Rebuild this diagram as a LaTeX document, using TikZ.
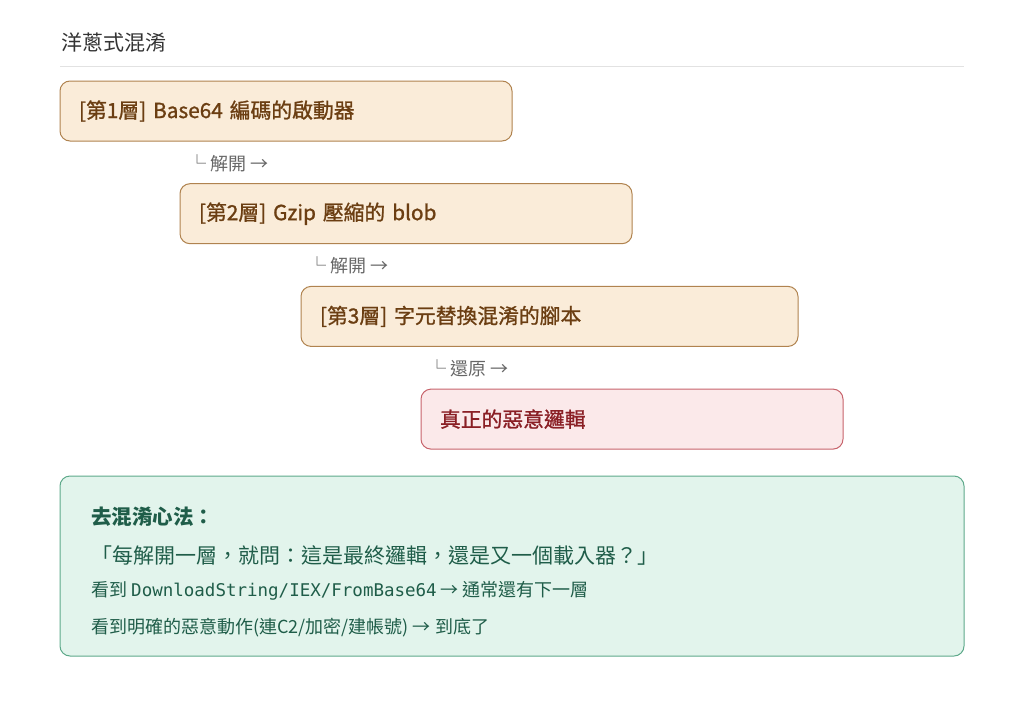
\documentclass[tikz,border=0pt]{standalone}
\usepackage{fontspec}
\setmainfont{Noto Sans CJK TC}
\setmonofont{DejaVu Sans Mono}
\newfontfamily\midweight{Noto Sans CJK TC}[FakeBold=1.1]
\usetikzlibrary{positioning}

\definecolor{headgray}{HTML}{333333}
\definecolor{rulegray}{HTML}{E2E2E2}
\definecolor{peelgray}{HTML}{666666}
\definecolor{layerfill}{HTML}{FAECD9}
\definecolor{layerline}{HTML}{B0834F}
\definecolor{layertext}{HTML}{6B3E12}
\definecolor{corefill}{HTML}{FBE9EA}
\definecolor{coreline}{HTML}{C7636B}
\definecolor{coretext}{HTML}{8A1F25}
\definecolor{tipfill}{HTML}{E2F4EC}
\definecolor{tipline}{HTML}{5DA98A}
\definecolor{tiptext}{HTML}{1F5D49}

\tikzset{%
  layer box/.style={draw=layerline,fill=layerfill,text=layertext,
    line width=1pt,rounded corners=10pt,anchor=north west,outer sep=0pt,
    minimum height=60pt,inner xsep=19pt,text width=#1,align=left,
    font=\fontsize{20.8}{24}\selectfont\midweight},
  core box/.style={layer box=#1,draw=coreline,fill=corefill,text=coretext},
  peel label/.style={anchor=west,inner sep=0pt,text=peelgray,
    font=\fontsize{18}{20}\selectfont},
  tip box/.style={draw=tipline,fill=tipfill,line width=1pt,outer sep=0pt,
    rounded corners=10pt,anchor=north west,minimum width=904pt,
    minimum height=180pt},
  tip line/.style={anchor=west,inner sep=0pt,text=tiptext,
    font=\fontsize{#1}{24}\selectfont}
}

\begin{document}
\begin{tikzpicture}[x=1pt,y=-1pt]

%% page frame

\useasboundingbox (0,0) rectangle (1024,717);

%% heading

\node[anchor=west,inner sep=0pt,text=headgray,
  font=\fontsize{21}{24}\selectfont] (title) at (61,43) {洋蔥式混淆};
\coordinate (ruleL) at (60,66);
\coordinate (ruleR) at (964,66);
\draw[rulegray,line width=1pt] (ruleL) -- (ruleR);

%% the layers, each one step further right

\node[layer box=414pt] (layer1) at (60,81) {[第1層] Base64 編碼的啟動器};
\node[peel label] (peel1) at ([xshift=128pt,yshift=-22pt]layer1.south west)
  {└ 解開 →};

\node[layer box=414pt] (layer2) at ([xshift=120pt,yshift=-42.7pt]layer1.south west)
  {[第2層] Gzip 壓縮的 blob};
\node[peel label] (peel2) at ([xshift=128pt,yshift=-22pt]layer2.south west)
  {└ 解開 →};

\node[layer box=459pt] (layer3) at ([xshift=121pt,yshift=-42.7pt]layer2.south west)
  {[第3層] 字元替換混淆的腳本};
\node[peel label] (peel3) at ([xshift=127pt,yshift=-22pt]layer3.south west)
  {└ 還原 →};

\node[core box=384pt] (core) at ([xshift=120pt,yshift=-42.7pt]layer3.south west)
  {真正的惡意邏輯};

%% rule of thumb

\node[tip box] (tips) at (60,476) {};
\node[tip line=20,font=\fontsize{20.5}{24}\selectfont\bfseries] (tip0)
  at ([xshift=31pt,yshift=-41pt]tips.north west) {去混淆心法：};
\node[tip line=21] (tip1) at ([xshift=31pt,yshift=-79pt]tips.north west)
  {「每解開一層，就問：這是最終邏輯，還是又一個載入器？」};
\node[tip line=18] (tip2) at ([xshift=31pt,yshift=-115pt]tips.north west)
  {看到 {\fontsize{17.5}{20}\selectfont\ttfamily DownloadString/IEX/FromBase64} → 通常還有下一層};
\node[tip line=18] (tip3) at ([xshift=31pt,yshift=-152pt]tips.north west)
  {看到明確的惡意動作(連C2/加密/建帳號) → 到底了};

\end{tikzpicture}
\end{document}
